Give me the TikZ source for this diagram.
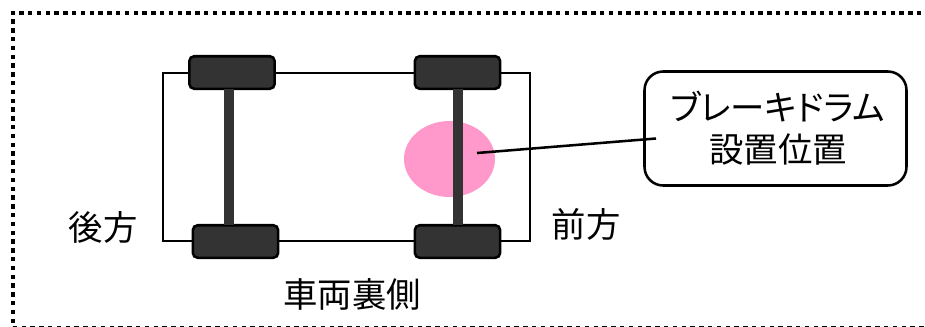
\documentclass[tikz,border=0pt]{standalone}
\usepackage{fontspec}
\setmainfont[RawFeature={+palt}]{Noto Sans CJK JP}
\definecolor{brakepink}{RGB}{255,153,204}
\definecolor{darkpart}{RGB}{51,51,51}
\tikzset{
  px/.style={x=0.75pt,y=-0.75pt},
  wheel/.style={draw=black,fill=darkpart,line width=1.9pt,rounded corners=3.6pt,minimum width=64pt,minimum height=24.4pt,inner sep=0pt},
  axle/.style={draw=darkpart,line width=7.5pt},
  body/.style={draw=black,line width=2pt},
  frameline/.style={draw=black,line width=3pt,dash pattern=on 3.3pt off 3.3pt},
  labeltext/.style={font=\fontsize{25.8pt}{31.5pt}\selectfont,inner sep=0pt},
  callout/.style={draw=black,line width=1.9pt,rounded corners=14pt,fill=white,inner sep=0pt,minimum width=196.5pt,minimum height=85.5pt,align=center,font=\fontsize{25.8pt}{31.5pt}\selectfont},
}
\begin{document}
\begin{tikzpicture}[px]
\useasboundingbox (0,0) rectangle (925,326);
\clip (0,0) rectangle (925,326);
\draw[frameline] (950,327.6) -- (13,327.6) -- (13,12.5) -- (950,12.5);
\draw[body] (163,73) rectangle (530,241);
\fill[brakepink] (449.5,159) ellipse (45.5 and 38);
\node[wheel] (w1) at (232,72.5) {};
\node[wheel] (w2) at (235.5,241.5) {};
\node[wheel] (w3) at (457.5,72.5) {};
\node[wheel] (w4) at (457.5,241.5) {};
\draw[axle] (228.7,89) -- (228.7,225);
\draw[axle] (457.5,89) -- (457.5,225);
\coordinate (brake) at (477,153);
\coordinate (lead) at (656,138.5);
\node[callout] (box) at (775.5,128.5) {\hspace*{3pt}ブレーキドラム\\\hspace*{4pt}設置位置};
\draw[black,line width=1.9pt] (brake) -- (lead);
\node[labeltext] (rear) at (103,227) {後方};
\node[labeltext] (front) at (586,224) {前方};
\node[labeltext] (under) at (352,294) {車両裏側};
\end{tikzpicture}
\end{document}
